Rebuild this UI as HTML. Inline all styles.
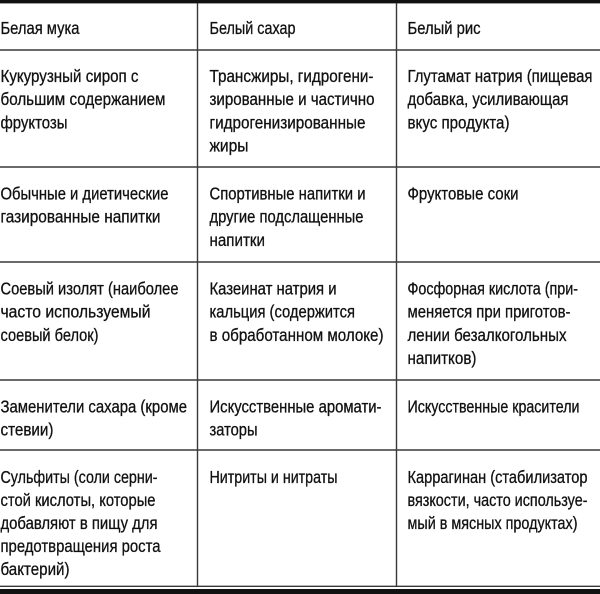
<!DOCTYPE html>
<html>
<head>
<meta charset="utf-8">
<style>
html,body{margin:0;padding:0;background:#fff;}
body{width:600px;height:594px;overflow:hidden;}
svg{display:block;}
text{font-family:"Liberation Sans","DejaVu Sans",sans-serif;font-size:17.4px;fill:#111;stroke:#111;stroke-width:0.3px;}
</style>
</head>
<body>
<svg width="600" height="594" viewBox="0 0 600 594" xmlns="http://www.w3.org/2000/svg">
  <rect x="0" y="0" width="600" height="594" fill="#fff"/>
  <rect x="0" y="0" width="600" height="3.4" fill="#111"/>
  <g stroke="#383838" stroke-width="1.4">
    <line x1="0" y1="50" x2="600" y2="50"/>
    <line x1="0" y1="167" x2="600" y2="167"/>
    <line x1="0" y1="262" x2="600" y2="262"/>
    <line x1="0" y1="380" x2="600" y2="380"/>
    <line x1="0" y1="450" x2="600" y2="450"/>
    <line x1="0" y1="586.3" x2="600" y2="586.3"/>
    <line x1="197.5" y1="3" x2="197.5" y2="587"/>
    <line x1="396.5" y1="3" x2="396.5" y2="587"/>
  </g>
  <rect x="0" y="589" width="600" height="5" fill="#111"/>

  <g>
  <text x="0.5" y="34" textLength="79" lengthAdjust="spacingAndGlyphs">Белая мука</text>
  <text x="209.5" y="34" textLength="86" lengthAdjust="spacingAndGlyphs">Белый сахар</text>
  <text x="407.5" y="34" textLength="73" lengthAdjust="spacingAndGlyphs">Белый рис</text>

  <text x="0.5" y="82" textLength="138" lengthAdjust="spacingAndGlyphs">Кукурузный сироп с</text>
  <text x="0.5" y="105.2" textLength="165" lengthAdjust="spacingAndGlyphs">большим содержанием</text>
  <text x="0.5" y="128.4" textLength="67" lengthAdjust="spacingAndGlyphs">фруктозы</text>

  <text x="209.5" y="82" textLength="164" lengthAdjust="spacingAndGlyphs">Трансжиры, гидрогени-</text>
  <text x="209.5" y="105.2" textLength="165" lengthAdjust="spacingAndGlyphs">зированные и частично</text>
  <text x="209.5" y="128.4" textLength="156" lengthAdjust="spacingAndGlyphs">гидрогенизированные</text>
  <text x="209.5" y="151.6" textLength="39" lengthAdjust="spacingAndGlyphs">жиры</text>

  <text x="407.5" y="82" textLength="185" lengthAdjust="spacingAndGlyphs">Глутамат натрия (пищевая</text>
  <text x="407.5" y="105.2" textLength="161" lengthAdjust="spacingAndGlyphs">добавка, усиливающая</text>
  <text x="407.5" y="128.4" textLength="102" lengthAdjust="spacingAndGlyphs">вкус продукта)</text>

  <text x="0.5" y="199.5" textLength="168" lengthAdjust="spacingAndGlyphs">Обычные и диетические</text>
  <text x="0.5" y="222.7" textLength="160" lengthAdjust="spacingAndGlyphs">газированные напитки</text>

  <text x="209.5" y="199.5" textLength="156" lengthAdjust="spacingAndGlyphs">Спортивные напитки и</text>
  <text x="209.5" y="222.7" textLength="154" lengthAdjust="spacingAndGlyphs">другие подслащенные</text>
  <text x="209.5" y="245.9" textLength="55.5" lengthAdjust="spacingAndGlyphs">напитки</text>

  <text x="407.5" y="199.5" textLength="111" lengthAdjust="spacingAndGlyphs">Фруктовые соки</text>

  <text x="0.5" y="294.5" textLength="178" lengthAdjust="spacingAndGlyphs">Соевый изолят (наиболее</text>
  <text x="0.5" y="317.7" textLength="150" lengthAdjust="spacingAndGlyphs">часто используемый</text>
  <text x="0.5" y="340.9" textLength="98" lengthAdjust="spacingAndGlyphs">соевый белок)</text>

  <text x="209.5" y="294.5" textLength="127" lengthAdjust="spacingAndGlyphs">Казеинат натрия и</text>
  <text x="209.5" y="317.7" textLength="145.5" lengthAdjust="spacingAndGlyphs">кальция (содержится</text>
  <text x="209.5" y="340.9" textLength="174" lengthAdjust="spacingAndGlyphs">в обработанном молоке)</text>

  <text x="407.5" y="294.5" textLength="170.5" lengthAdjust="spacingAndGlyphs">Фосфорная кислота (при-</text>
  <text x="407.5" y="317.7" textLength="163" lengthAdjust="spacingAndGlyphs">меняется при приготов-</text>
  <text x="407.5" y="340.9" textLength="159" lengthAdjust="spacingAndGlyphs">лении безалкогольных</text>
  <text x="407.5" y="364.1" textLength="69" lengthAdjust="spacingAndGlyphs">напитков)</text>

  <text x="0.5" y="412.5" textLength="186.5" lengthAdjust="spacingAndGlyphs">Заменители сахара (кроме</text>
  <text x="0.5" y="435.7" textLength="53" lengthAdjust="spacingAndGlyphs">стевии)</text>

  <text x="209.5" y="412.5" textLength="172" lengthAdjust="spacingAndGlyphs">Искусственные аромати-</text>
  <text x="209.5" y="435.7" textLength="48" lengthAdjust="spacingAndGlyphs">заторы</text>

  <text x="407.5" y="412.5" textLength="172" lengthAdjust="spacingAndGlyphs">Искусственные красители</text>

  <text x="0.5" y="483" textLength="157" lengthAdjust="spacingAndGlyphs">Сульфиты (соли серни-</text>
  <text x="0.5" y="506" textLength="155" lengthAdjust="spacingAndGlyphs">стой кислоты, которые</text>
  <text x="0.5" y="529" textLength="157" lengthAdjust="spacingAndGlyphs">добавляют в пищу для</text>
  <text x="0.5" y="552" textLength="160" lengthAdjust="spacingAndGlyphs">предотвращения роста</text>
  <text x="0.5" y="575" textLength="69" lengthAdjust="spacingAndGlyphs">бактерий)</text>

  <text x="209.5" y="483" textLength="128" lengthAdjust="spacingAndGlyphs">Нитриты и нитраты</text>

  <text x="407.5" y="483" textLength="180" lengthAdjust="spacingAndGlyphs">Каррагинан (стабилизатор</text>
  <text x="407.5" y="506" textLength="180" lengthAdjust="spacingAndGlyphs">вязкости, часто используе-</text>
  <text x="407.5" y="529" textLength="170" lengthAdjust="spacingAndGlyphs">мый в мясных продуктах)</text>
  </g>
</svg>
</body>
</html>
